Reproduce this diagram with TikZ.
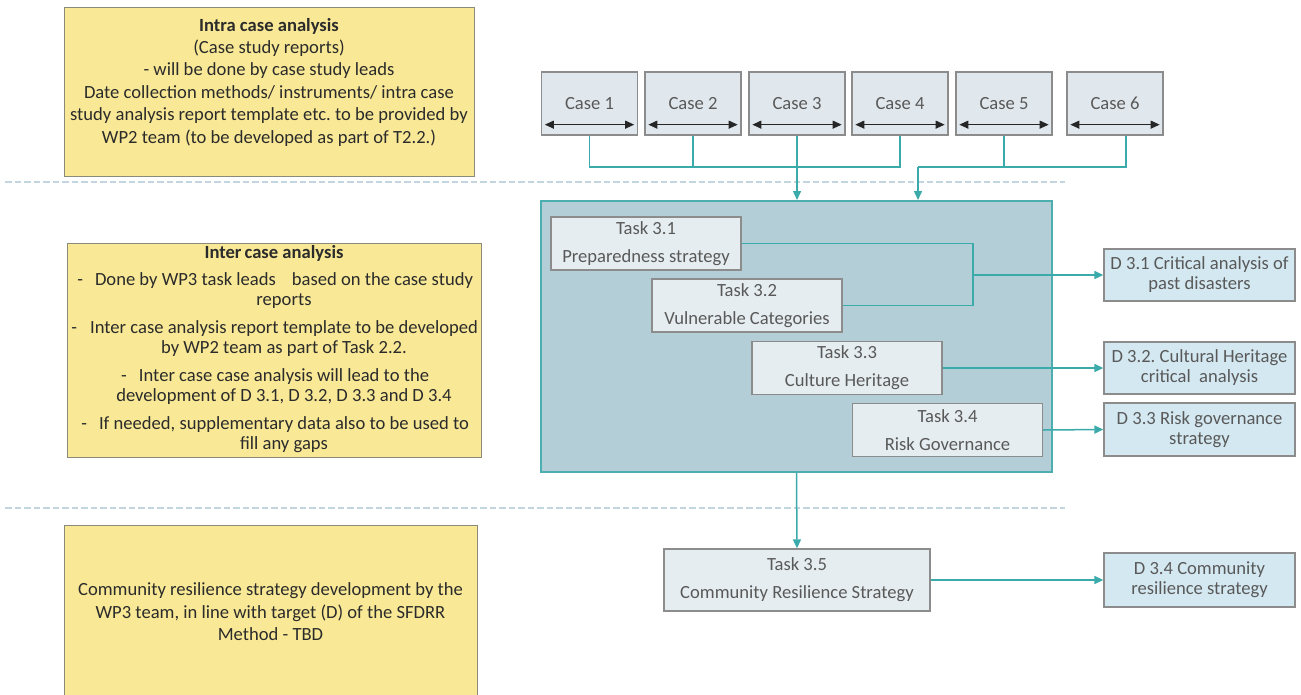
\documentclass[tikz,border=0pt]{standalone}
\usepackage{fontspec}
\setmainfont{Carlito}
\usetikzlibrary{arrows.meta,calc}
\frenchspacing

\definecolor{notefill}{HTML}{F9E996}
\definecolor{notebd}{HTML}{8A8A7A}
\definecolor{notetext}{HTML}{2B2B2B}
\definecolor{boxbd}{HTML}{8C8C8C}
\definecolor{casefill}{HTML}{E1E8ED}
\definecolor{taskfill}{HTML}{E6EDF0}
\definecolor{delfill}{HTML}{D4E8F1}
\definecolor{bigfill}{HTML}{B4CED8}
\definecolor{bigbd}{HTML}{4DAEB0}
\definecolor{flow}{HTML}{3AAAAA}
\definecolor{sep}{HTML}{C3D6DF}
\definecolor{greytext}{HTML}{595959}

\begin{document}
\begin{tikzpicture}[x=1pt,y=-1pt,
  every node/.style={inner sep=0pt, align=center, font=\fontsize{18.6}{22.4}\selectfont},
  note/.style={draw=notebd, fill=notefill, line width=1pt},
  notetxt/.style={text=notetext},
  bullet/.style={text=notetext, font=\fontsize{18.6}{20}\selectfont},
  casebox/.style={draw=boxbd, fill=casefill, line width=1.3pt, text=greytext,
    minimum width=96pt, minimum height=63pt},
  group/.style={draw=bigbd, fill=bigfill, line width=2pt},
  taskbox/.style={draw=boxbd, fill=taskfill, line width=1.3pt, text=greytext,
    minimum width=190pt, minimum height=53pt, font=\fontsize{18.6}{28}\selectfont},
  delbox/.style={draw=boxbd, fill=delfill, line width=1.3pt, text=greytext,
    minimum width=191pt, minimum height=52pt, font=\fontsize{18.6}{20}\selectfont},
  conn/.style={draw=flow, line width=1.5pt},
  arr/.style={conn, -{Triangle[length=9pt,width=8pt]}},
  span/.style={draw=black!85, line width=1.1pt,
    {Triangle[length=9pt,width=8pt]}-{Triangle[length=9pt,width=8pt]}},
  separator/.style={draw=sep, line width=2pt, dash pattern=on 6.5pt off 3pt}
]
\useasboundingbox (0,0) rectangle (1301,694);

% ---- separators between the three phases
\coordinate (s1a) at (5,182);   \coordinate (s1b) at (1065,182);
\coordinate (s2a) at (5,508);   \coordinate (s2b) at (1065,508);
\draw[separator] (s1a) -- (s1b);
\draw[separator] (s2a) -- (s2b);

% ---- notes on the left
\node[note, minimum width=410pt, minimum height=169pt] (intra) at (269,91.5) {};
\node[notetxt] (intratxt) at (269,82) {\textbf{Intra case analysis}\\(Case study reports)\\- will be done by case study leads\\Date collection methods/ instruments/ intra case\\study analysis report template etc. to be provided by\\WP2 team (to be developed as part of T2.2.)};

\node[note, minimum width=414pt, minimum height=214pt] (inter) at (274,350) {};
\node[notetxt] (intertitle) at (274,253) {\textbf{Inter\,case analysis}};
\node[bullet] (ib1) at (284,291) {\llap{-\hspace{12pt}}Done by WP3 task leads\hspace{16pt}based on the case study\\reports};
\node[bullet] (ib2) at (284,338.5) {\llap{-\hspace{13pt}}Inter case analysis report template to be developed\\by WP2 team as part of Task 2.2.};
\node[bullet] (ib3) at (284,387) {\llap{-\hspace{12pt}}Inter case case analysis will lead to the\\development of D 3.1, D 3.2, D 3.3 and D 3.4};
\node[bullet] (ib4) at (284,435) {\llap{-\hspace{12pt}}If needed, supplementary data also to be used to\\fill any gaps};

\node[note, minimum width=413pt, minimum height=178pt] (comm) at (270.5,614) {};
\node[notetxt] (commtxt) at (270.5,612) {Community resilience strategy development by the\\WP3 team, in line with target (D) of the SFDRR\\Method - TBD};

% ---- case studies
\foreach \n/\x in {1/589.5, 2/693, 3/797, 4/900, 5/1004, 6/1115} {
  \node[casebox] (c\n) at (\x,103.5) {Case \n};
  \draw[span] ($(c\n.south west)+(4,-11)$) -- ($(c\n.south east)+(-4,-11)$);
}

% ---- work package group with its tasks
\node[group, minimum width=511pt, minimum height=271pt] (wp) at (796.5,336.5) {};
\node[taskbox] (t31) at (646,243.5) {Task 3.1\\Preparedness strategy};
\node[taskbox] (t32) at (747,305.5) {Task 3.2\\Vulnerable Categories};
\node[taskbox] (t33) at (847,368) {Task 3.3\\Culture Heritage};
\node[taskbox] (t34) at (947.5,430) {Task 3.4\\Risk Governance};
\node[taskbox, minimum width=266pt, minimum height=62pt] (t35) at (797,580) {Task 3.5\\Community Resilience Strategy};

% ---- deliverables
\node[delbox] (d31) at (1199.5,275) {D 3.1 Critical analysis of\\past disasters};
\node[delbox] (d32) at (1199.5,368) {D 3.2. Cultural Heritage\\critical\ \ analysis};
\node[delbox, minimum height=53pt] (d33) at (1199.5,429.5) {D 3.3 Risk governance\\strategy};
\node[delbox, minimum height=54pt] (d34) at (1199.5,580) {D 3.4 Community\\resilience strategy};

% ---- cases feed the group
\coordinate (busL) at (589.5,167);
\coordinate (busR) at (918,167);
\draw[conn] (c1.south) -- (c1.south |- busL) -- (c4.south |- busL) -- (c4.south);
\draw[conn] (c2.south) -- (c2.south |- busL);
\draw[arr] (c3.south) -- (c3.south |- wp.north);
\draw[conn] (c5.south) -- (c5.south |- busR);
\draw[conn] ($(c6.south)+(11,0)$) -- ($(c6.south |- busR)+(11,0)$) -- (busR);
\draw[arr] (busR) -- (busR |- wp.north);

% ---- tasks to deliverables
\coordinate (join) at (973,275);
\draw[conn] (t31.east) -| (join) |- (t32.east);
\draw[arr] (join) -- (d31.west);
\draw[arr] (t33.east) -- (d32.west);
\draw[arr] (t34.east) -- (d33.west);
\draw[arr] (wp.south) -- (t35.north);
\draw[arr] (t35.east) -- (d34.west);
\end{tikzpicture}
\end{document}
